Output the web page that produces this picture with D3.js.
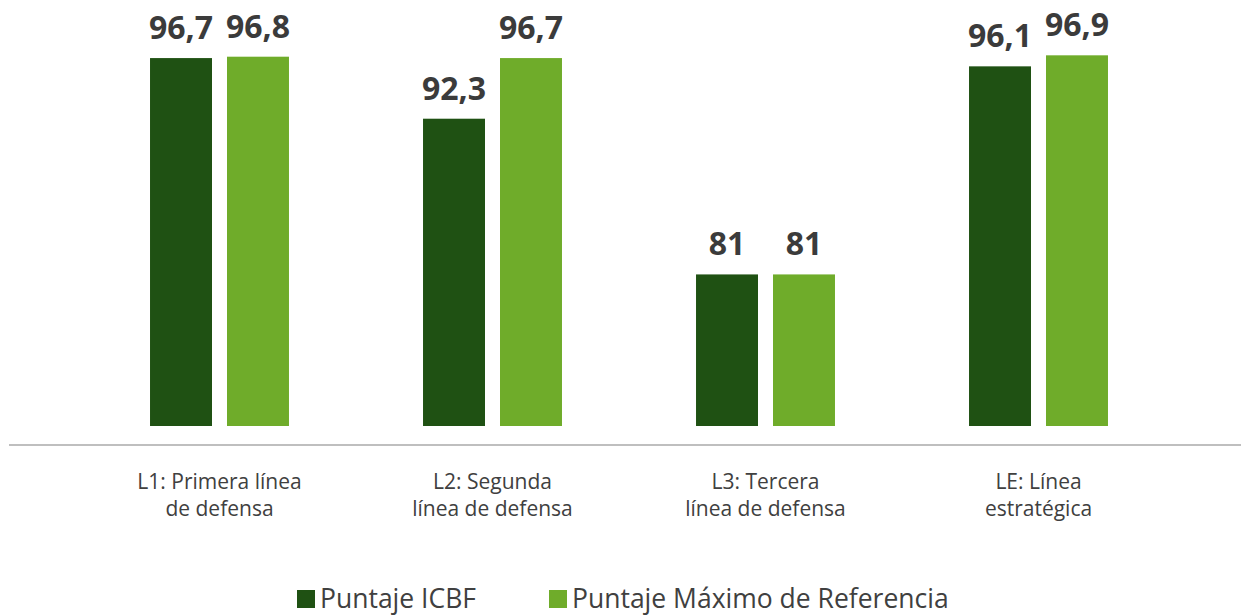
<!DOCTYPE html>
<html><head><meta charset="utf-8">
<script src="https://cdn.jsdelivr.net/npm/d3@7"></script>
<style>body{margin:0;background:#fff}svg{display:block}</style>
</head><body>
<svg id="c" width="1241" height="615"></svg>
<script>
const categories = ["L1", "L2", "L3", "LE"];
const categoryLabels = [
  ["L1: Primera línea", "de defensa"],
  ["L2: Segunda", "línea de defensa"],
  ["L3: Tercera", "línea de defensa"],
  ["LE: Línea", "estratégica"]
];
const seriesNames = ["Puntaje ICBF", "Puntaje Máximo de Referencia"];
const icbf = [96.7, 92.3, 81, 96.1];
const maximo = [96.8, 96.7, 81, 96.9];
const valueLabels = [["96,7","92,3","81","96,1"],["96,8","96,7","81","96,9"]];
const colors = ["#1f5113", "#6fac2a"];

const svg = d3.select("#c");
const x = d3.scaleBand().domain(categories).range([83, 1175]).paddingInner(0.491).paddingOuter(0.2455);
const xs = d3.scaleBand().domain([0,1]).range([0, x.bandwidth()]).paddingInner(0.195).paddingOuter(0);
const y = d3.scaleLinear().domain([70, 100]).range([426, 12.6]);
const series = [icbf, maximo];

const g = svg.append("g");
categories.forEach((c, i) => {
  series.forEach((s, k) => {
    const bx = x(c) + xs(k);
    g.append("rect").attr("x", bx).attr("y", y(s[i]))
      .attr("width", xs.bandwidth()).attr("height", y(70) - y(s[i]))
      .attr("fill", colors[k]);
    g.append("text").attr("x", bx + xs.bandwidth()/2).attr("y", y(s[i]) - 19)
      .attr("text-anchor", "middle").attr("font-family", "Open Sans")
      .attr("font-weight", 700).attr("font-size", 32).attr("fill", "#3b3b3b")
      .text(valueLabels[k][i]);
  });
  const t = g.append("text").attr("text-anchor", "middle").attr("font-family", "Open Sans")
    .attr("font-size", 21).attr("fill", "#404040");
  categoryLabels[i].forEach((ln, j) => {
    t.append("tspan").attr("x", x(c) + x.bandwidth()/2).attr("y", 489 + j*27).text(ln);
  });
});

svg.append("line").attr("x1", 9).attr("x2", 1241).attr("y1", 445).attr("y2", 445)
  .attr("stroke", "#bfbfbf").attr("stroke-width", 2);

const legX = [297, 549];
seriesNames.forEach((n, k) => {
  svg.append("rect").attr("x", legX[k]).attr("y", 590).attr("width", 18).attr("height", 18).attr("fill", colors[k]);
  svg.append("text").attr("x", legX[k] + 23).attr("y", 608).attr("font-family", "Open Sans")
    .attr("font-size", 26.5).attr("fill", "#404040").text(n);
});
</script>
</body></html>
